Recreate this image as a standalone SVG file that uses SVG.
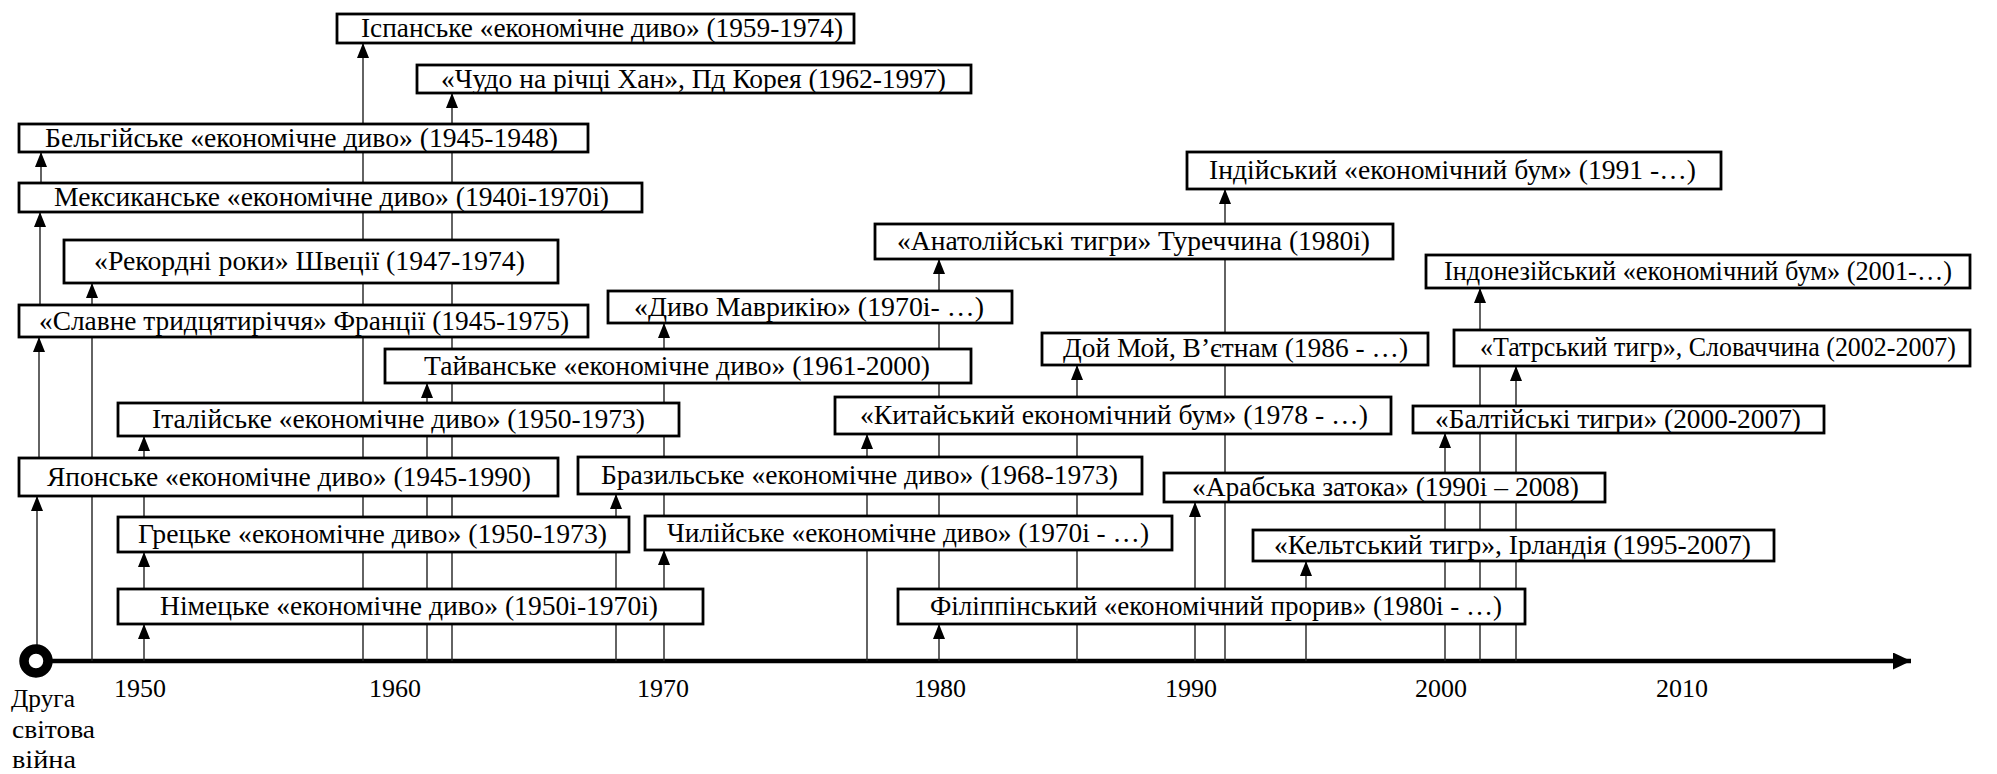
<svg xmlns="http://www.w3.org/2000/svg" width="1997" height="774" viewBox="0 0 1997 774">
<style>
.bx{fill:#fff;stroke:#000;stroke-width:2.8}
.t{font-size:27px;fill:#000;font-family:"Liberation Serif","Times New Roman",serif}
.yr{font-size:26px;fill:#000;font-family:"Liberation Serif","Times New Roman",serif}
.c{stroke:#222;stroke-width:1.4;fill:none;marker-end:url(#ah)}
</style>
<defs>
<marker id="ah" markerUnits="userSpaceOnUse" markerWidth="16" markerHeight="13" refX="15" refY="6" orient="auto">
<path d="M0,0 L15,6 L0,12 z" fill="#000"/>
</marker>
<marker id="axh" markerUnits="userSpaceOnUse" markerWidth="20" markerHeight="18" refX="18" refY="8.5" orient="auto">
<path d="M0,0 L18,8.5 L0,17 z" fill="#000"/>
</marker>
</defs>
<rect width="1997" height="774" fill="#fff"/>

<g id="axis">
<line x1="36" y1="661" x2="1911" y2="661" stroke="#000" stroke-width="4.5" marker-end="url(#axh)"/>
</g>

<g id="connectors">
<line class="c" x1="37" y1="646" x2="37" y2="496"/>
<line class="c" x1="39" y1="458" x2="39" y2="337"/>
<line class="c" x1="40" y1="305" x2="40" y2="212"/>
<line class="c" x1="41" y1="183" x2="41" y2="152"/>
<line class="c" x1="92" y1="661" x2="92" y2="283"/>
<line class="c" x1="144" y1="661" x2="144" y2="624"/>
<line class="c" x1="144" y1="589" x2="144" y2="552"/>
<line class="c" x1="144" y1="517" x2="144" y2="436"/>
<line class="c" x1="363" y1="661" x2="363" y2="43"/>
<line class="c" x1="427" y1="661" x2="427" y2="383"/>
<line class="c" x1="452" y1="661" x2="452" y2="93"/>
<line class="c" x1="616" y1="661" x2="616" y2="494"/>
<line class="c" x1="664" y1="661" x2="664" y2="550"/>
<line class="c" x1="664" y1="516" x2="664" y2="323"/>
<line class="c" x1="867" y1="661" x2="867" y2="434"/>
<line class="c" x1="939" y1="661" x2="939" y2="624"/>
<line class="c" x1="939" y1="589" x2="939" y2="259"/>
<line class="c" x1="1077" y1="661" x2="1077" y2="365"/>
<line class="c" x1="1195" y1="661" x2="1195" y2="502"/>
<line class="c" x1="1225" y1="661" x2="1225" y2="189"/>
<line class="c" x1="1306" y1="661" x2="1306" y2="561"/>
<line class="c" x1="1445" y1="661" x2="1445" y2="433"/>
<line class="c" x1="1480" y1="661" x2="1480" y2="288"/>
<line class="c" x1="1516" y1="661" x2="1516" y2="366"/>
</g>

<g id="start">
<circle cx="36" cy="661" r="12" fill="#fff" stroke="#000" stroke-width="9.5"/>
<text class="yr" x="11" y="707" textLength="64" lengthAdjust="spacingAndGlyphs">Друга</text>
<text class="yr" x="12" y="738" textLength="83" lengthAdjust="spacingAndGlyphs">світова</text>
<text class="yr" x="12" y="768" textLength="64" lengthAdjust="spacingAndGlyphs">війна</text>
</g>

<g id="years">
<text class="yr" x="140" y="697" text-anchor="middle">1950</text>
<text class="yr" x="395" y="697" text-anchor="middle">1960</text>
<text class="yr" x="663" y="697" text-anchor="middle">1970</text>
<text class="yr" x="940" y="697" text-anchor="middle">1980</text>
<text class="yr" x="1191" y="697" text-anchor="middle">1990</text>
<text class="yr" x="1441" y="697" text-anchor="middle">2000</text>
<text class="yr" x="1682" y="697" text-anchor="middle">2010</text>
</g>

<g id="spain"><rect class="bx" x="337" y="14" width="517" height="29"/><text class="t" x="361" y="37" textLength="482" lengthAdjust="spacingAndGlyphs">Іспанське  «економічне диво» (1959-1974)</text></g>
<g id="korea"><rect class="bx" x="417" y="65" width="554" height="28"/><text class="t" x="441" y="88" textLength="505" lengthAdjust="spacingAndGlyphs">«Чудо на річці Хан», Пд Корея (1962-1997)</text></g>
<g id="belgium"><rect class="bx" x="19" y="124" width="569" height="28"/><text class="t" x="45" y="147" textLength="513" lengthAdjust="spacingAndGlyphs">Бельгійське «економічне диво» (1945-1948)</text></g>
<g id="mexico"><rect class="bx" x="19" y="183" width="623" height="29"/><text class="t" x="54" y="206" textLength="555" lengthAdjust="spacingAndGlyphs">Мексиканське  «економічне диво» (1940і-1970і)</text></g>
<g id="sweden"><rect class="bx" x="64" y="240" width="494" height="43"/><text class="t" x="94" y="270" textLength="431" lengthAdjust="spacingAndGlyphs">«Рекордні роки» Швеції (1947-1974)</text></g>
<g id="france"><rect class="bx" x="19" y="305" width="569" height="32"/><text class="t" x="39" y="330" textLength="530" lengthAdjust="spacingAndGlyphs">«Славне тридцятиріччя» Франції (1945-1975)</text></g>
<g id="mauritius"><rect class="bx" x="608" y="291" width="404" height="32"/><text class="t" x="634" y="316" textLength="350" lengthAdjust="spacingAndGlyphs">«Диво Маврикію» (1970і- …)</text></g>
<g id="taiwan"><rect class="bx" x="385" y="349" width="586" height="34"/><text class="t" x="424" y="375" textLength="506" lengthAdjust="spacingAndGlyphs">Тайванське «економічне диво» (1961-2000)</text></g>
<g id="italy"><rect class="bx" x="118" y="403" width="561" height="33"/><text class="t" x="152" y="428" textLength="493" lengthAdjust="spacingAndGlyphs">Італійське «економічне диво» (1950-1973)</text></g>
<g id="japan"><rect class="bx" x="19" y="458" width="539" height="38"/><text class="t" x="47" y="486" textLength="484" lengthAdjust="spacingAndGlyphs">Японське «економічне диво» (1945-1990)</text></g>
<g id="brazil"><rect class="bx" x="578" y="457" width="564" height="37"/><text class="t" x="601" y="484" textLength="517" lengthAdjust="spacingAndGlyphs">Бразильське «економічне диво» (1968-1973)</text></g>
<g id="greece"><rect class="bx" x="118" y="517" width="511" height="35"/><text class="t" x="138" y="543" textLength="469" lengthAdjust="spacingAndGlyphs">Грецьке «економічне диво» (1950-1973)</text></g>
<g id="chile"><rect class="bx" x="645" y="516" width="527" height="34"/><text class="t" x="667" y="542" textLength="482" lengthAdjust="spacingAndGlyphs">Чилійське «економічне диво» (1970і - …)</text></g>
<g id="germany"><rect class="bx" x="118" y="589" width="585" height="35"/><text class="t" x="160" y="615" textLength="498" lengthAdjust="spacingAndGlyphs">Німецьке «економічне диво» (1950і-1970і)</text></g>
<g id="philippines"><rect class="bx" x="898" y="589" width="627" height="35"/><text class="t" x="930" y="615" textLength="572" lengthAdjust="spacingAndGlyphs">Філіппінський «економічний прорив» (1980і - …)</text></g>
<g id="india"><rect class="bx" x="1187" y="152" width="534" height="37"/><text class="t" x="1209" y="179" textLength="487" lengthAdjust="spacingAndGlyphs">Індійський «економічний бум» (1991 -…)</text></g>
<g id="anatolia"><rect class="bx" x="875" y="224" width="518" height="35"/><text class="t" x="897" y="250" textLength="473" lengthAdjust="spacingAndGlyphs">«Анатолійські тигри» Туреччина (1980і)</text></g>
<g id="indonesia"><rect class="bx" x="1426" y="255" width="544" height="33"/><text class="t" x="1444" y="280" textLength="508" lengthAdjust="spacingAndGlyphs">Індонезійський «економічний бум» (2001-…)</text></g>
<g id="vietnam"><rect class="bx" x="1042" y="333" width="386" height="32"/><text class="t" x="1063" y="357" textLength="345" lengthAdjust="spacingAndGlyphs">Дой Мой, В’єтнам (1986 - …)</text></g>
<g id="tatra"><rect class="bx" x="1454" y="330" width="516" height="36"/><text class="t" x="1480" y="356" textLength="476" lengthAdjust="spacingAndGlyphs">«Татрський тигр», Словаччина (2002-2007)</text></g>
<g id="china"><rect class="bx" x="835" y="397" width="556" height="37"/><text class="t" x="860" y="424" textLength="508" lengthAdjust="spacingAndGlyphs">«Китайський економічний бум» (1978 - …)</text></g>
<g id="baltic"><rect class="bx" x="1413" y="406" width="411" height="27"/><text class="t" x="1435" y="428" textLength="366" lengthAdjust="spacingAndGlyphs">«Балтійські тигри» (2000-2007)</text></g>
<g id="arab"><rect class="bx" x="1164" y="473" width="441" height="29"/><text class="t" x="1192" y="496" textLength="387" lengthAdjust="spacingAndGlyphs">«Арабська затока» (1990і – 2008)</text></g>
<g id="celtic"><rect class="bx" x="1253" y="530" width="521" height="31"/><text class="t" x="1274" y="554" textLength="477" lengthAdjust="spacingAndGlyphs">«Кельтський тигр», Ірландія (1995-2007)</text></g>
</svg>
